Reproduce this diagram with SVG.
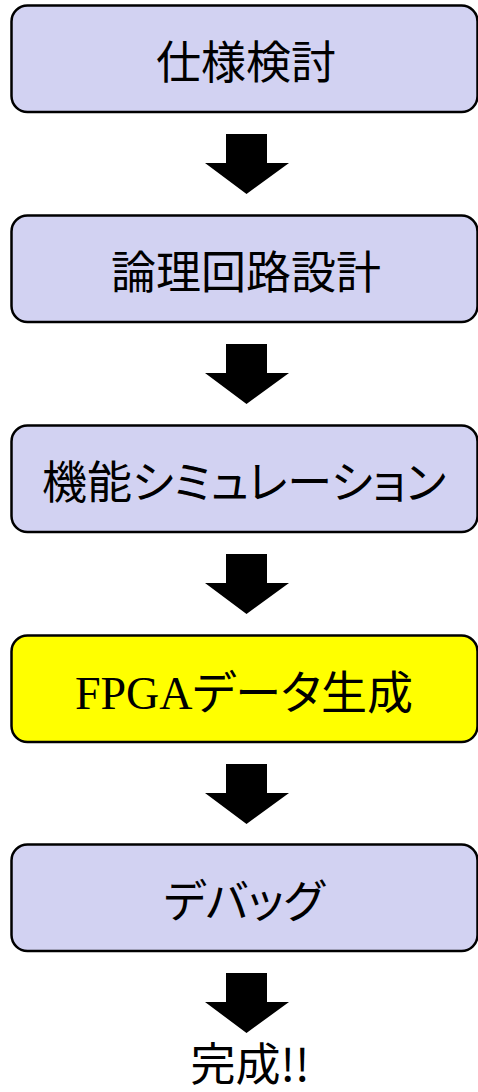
<svg xmlns="http://www.w3.org/2000/svg" width="478" height="1092" viewBox="0 0 478 1092">
<style>
.box{fill:#D2D2F2;stroke:#000;stroke-width:2.5}
.hl{fill:#FFFF00}
.t{font-family:"Noto Sans CJK JP","Noto Sans",sans-serif;font-size:45px;fill:#000;text-anchor:middle;font-feature-settings:"palt" 1}
.s{font-family:"Liberation Serif","Noto Sans CJK JP",serif;font-size:46px}
.arr{fill:#000}
</style>
<defs>
<polygon id="arrow" points="226,0 267,0 267,29 289,29 246.5,60 205,29 226,29"/>
</defs>
<rect width="478" height="1092" fill="#fff"/>
<g id="connectors">
<use href="#arrow" class="arr" y="134"/>
<use href="#arrow" class="arr" y="344"/>
<use href="#arrow" class="arr" y="554"/>
<use href="#arrow" class="arr" y="764"/>
<use href="#arrow" class="arr" y="973"/>
</g>
<g id="n1"><rect class="box" x="11.5" y="5.5" width="466" height="106.5" rx="16"/><text class="t" x="246" y="79">仕様検討</text></g>
<g id="n2"><rect class="box" x="11.5" y="215.5" width="466" height="106.5" rx="16"/><text class="t" x="246" y="289">論理回路設計</text></g>
<g id="n3"><rect class="box" x="11.5" y="425.5" width="466" height="106.5" rx="16"/><text class="t" x="244" y="499">機能シミュレーション</text></g>
<g id="n4"><rect class="box hl" x="11.5" y="635.5" width="466" height="106.5" rx="16"/><text class="t s" x="244" y="709">FPGAデータ生成</text></g>
<g id="n5"><rect class="box" x="11.5" y="844.5" width="466" height="106.5" rx="16"/><text class="t" x="244" y="918">デバッグ</text></g>
<g id="n6"><text class="t" x="250" y="1081">完成!!</text></g>
</svg>
